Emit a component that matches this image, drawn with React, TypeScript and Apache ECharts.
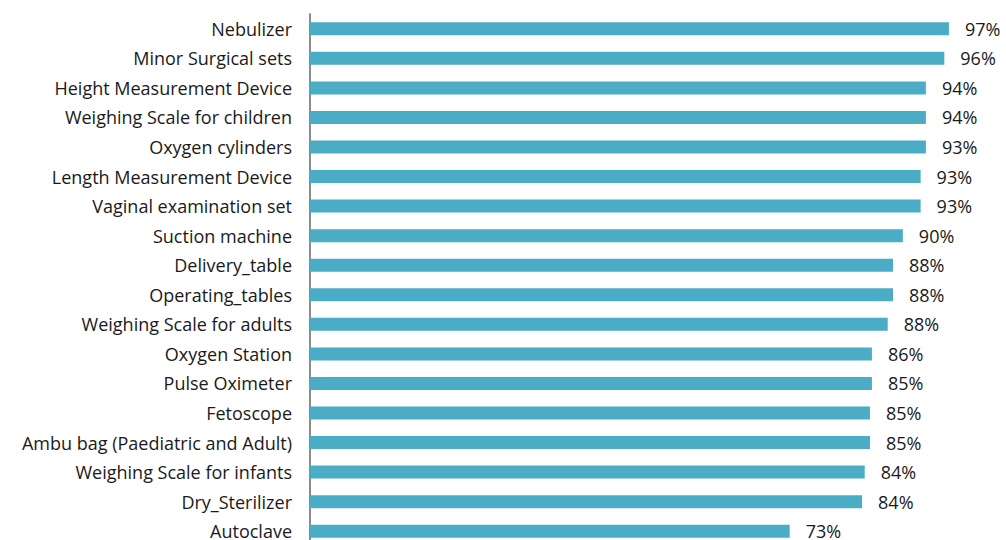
import React, { useEffect, useRef } from "react";
import * as echarts from "echarts";

const categories = [
  "Nebulizer",
  "Minor Surgical sets",
  "Height Measurement Device",
  "Weighing Scale for children",
  "Oxygen cylinders",
  "Length Measurement Device",
  "Vaginal examination set",
  "Suction machine",
  "Delivery_table",
  "Operating_tables",
  "Weighing Scale for adults",
  "Oxygen Station",
  "Pulse Oximeter",
  "Fetoscope",
  "Ambu bag (Paediatric and Adult)",
  "Weighing Scale for infants",
  "Dry_Sterilizer",
  "Autoclave",
];

const values = [
  97.1, 96.4, 93.6, 93.6, 93.6, 92.8, 92.8, 90.1, 88.6, 88.6, 87.8, 85.4, 85.4,
  85.1, 85.1, 84.3, 83.9, 72.9,
];

const valueLabels = [
  "97%", "96%", "94%", "94%", "93%", "93%", "93%", "90%", "88%", "88%", "88%",
  "86%", "85%", "85%", "85%", "84%", "84%", "73%",
];

export default function App() {
  const ref = useRef<HTMLDivElement>(null);
  useEffect(() => {
    if (!ref.current) return;
    const chart = echarts.init(ref.current, undefined, { renderer: "svg" });
    chart.setOption({
      animation: false,
      grid: { left: 310, right: 38, top: 14, bottom: 14 },
      xAxis: {
        type: "value",
        min: 0,
        max: 100,
        show: false,
      },
      yAxis: {
        type: "category",
        data: categories,
        inverse: true,
        axisTick: { show: false },
        axisLine: { show: true, lineStyle: { color: "#8c8c8c", width: 2 } },
        axisLabel: {
          margin: 18,
          fontFamily: "Open Sans",
          fontSize: 18,
          color: "#1a1a1a",
        },
      },
      series: [
        {
          type: "bar",
          data: values,
          barWidth: 13,
          itemStyle: { color: "#4BACC6" },
          label: {
            show: true,
            position: "right",
            distance: 16,
            fontFamily: "Open Sans",
            fontSize: 18,
            color: "#1a1a1a",
            formatter: (p: any) => valueLabels[p.dataIndex],
          },
        },
      ],
    });
    return () => chart.dispose();
  }, []);
  return (
    <div
      style={{
        position: "fixed",
        left: 0,
        top: 0,
        width: 1006,
        height: 540,
        overflow: "hidden",
        background: "#fff",
      }}
    >
      <div ref={ref} style={{ width: 1006, height: 560 }} />
    </div>
  );
}
